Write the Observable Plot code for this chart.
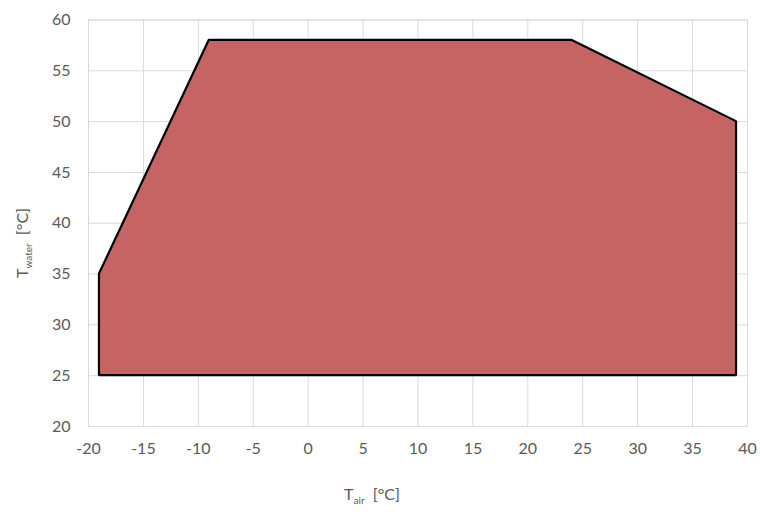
<!DOCTYPE html>
<html>
<head>
<meta charset="utf-8">
<script src="https://cdn.jsdelivr.net/npm/d3@7"></script>
<script src="https://cdn.jsdelivr.net/npm/@observablehq/plot@0.6"></script>
<style>
  html, body { margin: 0; padding: 0; background: #fff; }
  #chart { width: 760px; height: 516px; }
</style>
</head>
<body>
<div id="chart"></div>
<script>
// Envelope data (T_air, T_water)
const airX = [-19, -9, 24, 39];
const waterUpper = [35, 58, 58, 50];
const waterLower = [25, 25, 25, 25];
const xTicks = [-20, -15, -10, -5, 0, 5, 10, 15, 20, 25, 30, 35, 40];
const yTicks = [20, 25, 30, 35, 40, 45, 50, 55, 60];

const data = airX.map((x, i) => ({x, y1: waterLower[i], y2: waterUpper[i]}));

const fontFamily = "Lato, 'Open Sans', sans-serif";
const svg = Plot.plot({
  width: 760,
  height: 516,
  marginLeft: 88,
  marginRight: 13,
  marginTop: 19.5,
  marginBottom: 90,
  style: {fontFamily, fontSize: "16px", color: "#595959", background: "#fff"},
  x: {domain: [-20, 40], ticks: xTicks, tickSize: 0, label: null},
  y: {domain: [20, 60], ticks: yTicks, tickSize: 0, label: null},
  marks: [
    Plot.gridX(xTicks, {stroke: "#d9d9d9", strokeOpacity: 1, strokeWidth: 1}),
    Plot.gridY(yTicks, {stroke: "#d9d9d9", strokeOpacity: 1, strokeWidth: 1}),
    Plot.frame({stroke: "#d9d9d9", strokeWidth: 1}),
    Plot.areaY(data, {x: "x", y1: "y1", y2: "y2", fill: "#c66464", stroke: "#000", strokeWidth: 2.2, strokeLinejoin: "miter"}),
    Plot.axisX({ticks: xTicks, tickSize: 0, tickPadding: 16, fontSize: 16, fill: "#595959", label: null, tickFormat: d => String(d)}),
    Plot.axisY({ticks: yTicks, tickSize: 0, tickPadding: 18, fontSize: 16, fill: "#595959", label: null, tickFormat: d => String(d)})
  ]
});

const s = d3.select(svg);
// X axis title with subscript
const xt = s.append("text")
  .attr("x", 372).attr("y", 500)
  .attr("text-anchor", "middle")
  .attr("font-family", fontFamily).attr("font-size", 16).attr("fill", "#595959")
  .attr("xml:space", "preserve").style("white-space", "pre");
xt.append("tspan").text("T");
xt.append("tspan").attr("font-size", 10).attr("dy", 4).text("air");
xt.append("tspan").attr("dy", -4).text("  [°C]");

// Y axis title with subscript, rotated
const yt = s.append("text")
  .attr("transform", "translate(28,243) rotate(-90)")
  .attr("text-anchor", "middle")
  .attr("font-family", fontFamily).attr("font-size", 16).attr("fill", "#595959")
  .attr("xml:space", "preserve").style("white-space", "pre");
yt.append("tspan").text("T");
yt.append("tspan").attr("font-size", 10).attr("dy", 4).text("water");
yt.append("tspan").attr("dy", -4).text("  [°C]");

document.getElementById("chart").appendChild(svg);
</script>
</body>
</html>
